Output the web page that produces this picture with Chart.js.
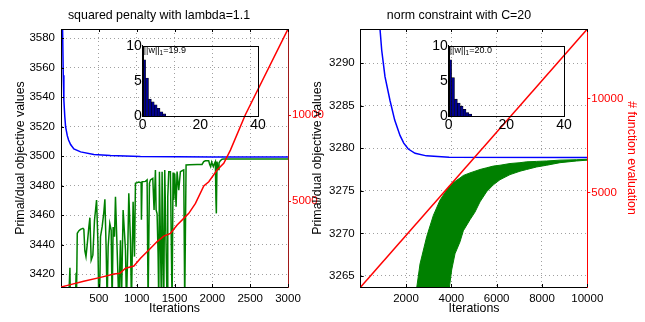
<!DOCTYPE html>
<html>
<head>
<meta charset="utf-8">
<title>primal/dual objective</title>
<script src="https://cdn.jsdelivr.net/npm/chart.js@4.4.1/dist/chart.umd.min.js"></script>
<style>
  body { margin: 0; background: #fff; width: 645px; height: 322px; overflow: hidden; position: relative; }
  canvas { position: absolute; }
</style>
</head>
<body>
<canvas id="penChart" width="340" height="322" style="left:0;top:0"></canvas>
<canvas id="conChart" width="345" height="322" style="left:300px;top:0"></canvas>
<canvas id="penHistChart" width="160" height="100" style="left:110px;top:36px"></canvas>
<canvas id="conHistChart" width="160" height="100" style="left:416px;top:36px"></canvas>
<script>
"use strict";

// ---- left panel: squared penalty with lambda=1.1 ----
const penIterBlue = [15, 21, 30, 38, 50, 61, 83, 100, 127, 170, 259, 434, 654, 1050, 2000, 3000];
const penPrimal = [3620, 3586, 3555, 3538, 3527, 3520, 3514, 3511, 3508, 3505, 3503, 3501.3, 3500.6, 3499.8, 3499.6, 3499.5];

const penIterGreen = [100, 118, 124, 190, 200, 206, 215, 237, 258, 290, 302, 315, 330, 346, 368, 382, 399, 421, 443, 470,
  487, 500, 514, 522, 544, 566, 580, 597, 610, 623, 645, 663, 676, 689, 707, 720, 742, 764, 786, 799,
  821, 852, 865, 883, 896, 918, 931, 953, 971, 984, 1028, 1059, 1063, 1072, 1116, 1138, 1151, 1169, 1182, 1213,
  1230, 1248, 1257, 1270, 1283, 1292, 1301, 1314, 1327, 1336, 1349, 1358, 1371, 1389, 1402, 1411, 1424, 1446, 1468, 1481,
  1490, 1503, 1521, 1534, 1556, 1578, 1600, 1622, 1635, 1653, 1700, 1800, 1864, 1886, 1908, 1952, 1965, 1978, 1991, 2013,
  2026, 2040, 2048, 2053, 2062, 2075, 2088, 2106, 2128, 2150, 3000];
const penDual = [3400, 3424.5, 3400, 3400, 3421, 3410, 3447.8, 3449.6, 3450.5, 3451.2, 3450.5, 3436, 3432, 3440, 3452, 3458.4, 3429.7, 3433, 3456.8, 3470.4,
  3443, 3400, 3416, 3445.5, 3452.3, 3462, 3470.8, 3436.5, 3400, 3438.7, 3454.5, 3450, 3400, 3452, 3445.5, 3472.6, 3436.5, 3400, 3443, 3400,
  3463.6, 3436.5, 3400, 3438.7, 3474.9, 3443, 3400, 3469.2, 3432, 3481.7, 3482.5, 3482, 3457, 3482.8, 3483, 3484, 3400, 3481.7, 3484, 3485,
  3463.6, 3490.7, 3463.6, 3461, 3434, 3400, 3489.6, 3443, 3400, 3489.6, 3430, 3400, 3490.7, 3438.7, 3400, 3472.6, 3489.6, 3489.6, 3400, 3489,
  3470.4, 3488.4, 3465.9, 3489.6, 3477, 3489.6, 3490.2, 3490.7, 3400, 3494.1, 3494.3, 3494.5, 3494.5, 3496.4, 3497, 3497, 3494.5, 3493, 3496, 3493,
  3495, 3496.4, 3470, 3461.3, 3496.4, 3491, 3495.5, 3497, 3498, 3498.2, 3498.2];

const penIterRed = [0, 100, 300, 523, 700, 778, 853, 963, 1051, 1161, 1271, 1359, 1447, 1535, 1645, 1689, 1777, 1887, 1953, 2063, 2151, 2239, 2435, 3000];
const penFev = [0, 110, 330, 560, 760, 800, 1090, 1220, 1670, 2150, 2640, 2960, 3120, 3600, 4090, 4280, 4860, 5870, 6120, 6800, 7190, 7960, 10000, 15000];

const penXTicks = [500, 1000, 1500, 2000, 2500, 3000];
const penYTicks = [3420, 3440, 3460, 3480, 3500, 3520, 3540, 3560, 3580];
const penFevTicks = [5000, 10000];

// ---- right panel: norm constraint with C=20 ----
const conIterBlue = [700, 852, 927, 1072, 1293, 1500, 1734, 1900, 2100, 2400, 2900, 3900, 10000];
const conPrimal = [3310, 3294, 3291.5, 3288.4, 3285.6, 3283.3, 3281.5, 3280.6, 3279.9, 3279.4, 3279.1, 3278.95, 3278.9];

// dual oscillates very fast, so only its upper and lower envelope are read
const conIterBand = [2440, 2617, 2911, 3205, 3499, 3794, 3911, 4014, 4161, 4382, 4529, 4823, 5044, 5265, 5559, 5853, 6147, 6589, 7030, 7324, 7765, 8207, 8795, 9530, 10000];
const conDualHigh = [3263.0, 3266.4, 3269.6, 3272.1, 3273.9, 3275.1, 3275.5, 3275.8, 3276.1, 3276.5, 3276.8, 3277.1, 3277.3, 3277.5, 3277.7, 3277.9, 3278.0, 3278.2, 3278.3, 3278.4, 3278.45, 3278.5, 3278.6, 3278.65, 3278.7];
const conDualLow = [3258, 3258, 3258, 3258, 3258, 3258, 3263.6, 3265.7, 3267.6, 3269.0, 3270.3, 3271.6, 3272.5, 3273.7, 3274.9, 3275.7, 3276.3, 3276.9, 3277.3, 3277.5, 3277.8, 3278.0, 3278.3, 3278.5, 3278.6];

const conIterRed = [0, 10000];
const conFev = [0, 13700];

const conXTicks = [2000, 4000, 6000, 8000, 10000];
const conYTicks = [3265, 3270, 3275, 3280, 3285, 3290];
const conFevTicks = [5000, 10000];

// ---- insets: histogram of |w| ----
const histBins = [0.5, 1.5, 2.5, 3.5, 4.5, 5.5, 6.5, 7.5];
const penHist = [8.0, 5.4, 2.4, 2.0, 1.6, 1.1, 0.6, 0.3];
const conHist = [8.0, 5.45, 2.4, 1.85, 1.4, 0.95, 0.5, 0.28];
const histXTicks = [0, 20, 40];
const histYTicks = [0, 5, 10];


Chart.defaults.font.family = '"Liberation Sans", Arial, Helvetica, sans-serif';
Chart.defaults.font.size = 11.5;
Chart.defaults.color = "#000";

const FONT = '"Liberation Sans", Arial, Helvetica, sans-serif';

function pts(xs, ys) {
  return xs.map((x, i) => ({ x: x, y: ys[i] }));
}

function fixedTicks(list) {
  return function (scale) {
    scale.ticks = list.map(v => ({ value: v }));
  };
}

// title above the plot + top border line + small inner tick marks (matlab style)
const framePlugin = {
  id: "frame",
  afterDraw(chart, args, opts) {
    const ctx = chart.ctx;
    const a = chart.chartArea;
    ctx.save();
    ctx.strokeStyle = "#000";
    ctx.lineWidth = 1;
    ctx.beginPath();
    ctx.moveTo(a.left, Math.round(a.top) + 0.5);
    ctx.lineTo(a.right, Math.round(a.top) + 0.5);
    const x = chart.scales.x, y = chart.scales.y;
    x.ticks.forEach(t => {
      const px = Math.round(x.getPixelForValue(t.value)) + 0.5;
      ctx.moveTo(px, a.bottom); ctx.lineTo(px, a.bottom - 3);
      ctx.moveTo(px, a.top); ctx.lineTo(px, a.top + 3);
    });
    y.ticks.forEach(t => {
      const py = Math.round(y.getPixelForValue(t.value)) + 0.5;
      ctx.moveTo(a.left, py); ctx.lineTo(a.left + 3, py);
    });
    ctx.stroke();
    if (opts.title) {
      ctx.font = "12.4px " + FONT;
      ctx.fillStyle = "#000";
      ctx.textAlign = "center";
      ctx.textBaseline = "alphabetic";
      ctx.fillText(opts.title, 159, 19);
    }
    ctx.restore();
  }
};

// box + "||w||_1=..." text of the small histograms
const boxPlugin = {
  id: "box",
  afterDraw(chart, args, opts) {
    const ctx = chart.ctx;
    const a = chart.chartArea;
    ctx.save();
    ctx.strokeStyle = "#000";
    ctx.lineWidth = 1;
    ctx.strokeRect(Math.round(a.left) + 0.5, Math.round(a.top) + 0.5, Math.round(a.right - a.left), Math.round(a.bottom - a.top));
    ctx.fillStyle = "#000";
    ctx.textBaseline = "alphabetic";
    ctx.font = "9px " + FONT;
    let tx = a.left + 1;
    ctx.fillText("||w||", tx, a.top + 7);
    tx += ctx.measureText("||w||").width;
    ctx.font = "6.5px " + FONT;
    ctx.fillText("1", tx, a.top + 9);
    tx += ctx.measureText("1").width;
    ctx.font = "9px " + FONT;
    ctx.fillText("=" + opts.norm, tx, a.top + 7);
    ctx.restore();
  }
};

function mainChart(id, o) {
  return new Chart(document.getElementById(id), {
    type: "line",
    data: { datasets: o.datasets },
    options: {
      responsive: false,
      animation: false,
      layout: { padding: { top: 29, left: 0, right: 0, bottom: 0 } },
      elements: { point: { radius: 0 }, line: { tension: 0, borderWidth: 1.5 } },
      plugins: {
        legend: { display: false },
        tooltip: { enabled: false },
        frame: { title: o.title }
      },
      scales: {
        x: {
          type: "linear", min: o.xMin, max: o.xMax,
          afterBuildTicks: fixedTicks(o.xTicks),
          afterFit: s => { s.height = 35; },
          grid: { color: "#a0a0a0", drawTicks: false },
          border: { color: "#000", dash: [1, 3] },
          ticks: { padding: 5, maxRotation: 0, minRotation: 0, autoSkip: false, callback: v => String(v) },
          title: { display: true, text: "Iterations", font: { size: 12.4 }, padding: { top: 0, bottom: 5.5 } }
        },
        y: {
          type: "linear", position: "left", min: o.yMin, max: o.yMax,
          afterBuildTicks: fixedTicks(o.yTicks),
          afterFit: s => { s.width = o.leftW; },
          grid: { color: "#a0a0a0", drawTicks: false },
          border: { color: "#000", dash: [1, 3] },
          ticks: { padding: 6, autoSkip: false, callback: v => String(v) },
          title: { display: true, text: "Primal/dual objective values", font: { size: 12.4 }, padding: { top: o.leftTitlePad, bottom: 0 } }
        },
        y2: {
          type: "linear", position: "right", min: 0, max: o.fevMax,
          afterBuildTicks: fixedTicks(o.fevTicks),
          afterFit: s => { s.width = o.rightW; },
          grid: { drawOnChartArea: false, color: "#ff0000", tickLength: 3 },
          border: { color: o.fevAxisColor },
          ticks: { color: "#ff0000", padding: 1, autoSkip: false, callback: v => String(v) },
          title: { display: o.fevTitle, text: "# function evaluation", color: "#ff0000", font: { size: 12.4 }, padding: { top: 5.8, bottom: 0 } }
        }
      }
    },
    plugins: [framePlugin]
  });
}

function histChart(id, counts, norm) {
  return new Chart(document.getElementById(id), {
    type: "bar",
    data: {
      datasets: [{
        data: pts(histBins, counts),
        backgroundColor: "#00008f",
        borderColor: "#000",
        borderWidth: 0.6,
        barPercentage: 1,
        categoryPercentage: 1
      }]
    },
    options: {
      responsive: false,
      animation: false,
      layout: { padding: { top: 9.7, right: 12, left: 0, bottom: 0 } },
      plugins: { legend: { display: false }, tooltip: { enabled: false }, box: { norm: norm } },
      scales: {
        x: {
          type: "linear", min: 0, max: 40, offset: false,
          afterBuildTicks: fixedTicks(histXTicks),
          afterFit: s => { s.height = 20; },
          grid: { display: false, offset: false, drawTicks: false },
          border: { color: "#000" },
          ticks: { font: { size: 14 }, padding: 1, maxRotation: 0, autoSkip: false }
        },
        y: {
          type: "linear", min: 0, max: 10,
          afterBuildTicks: fixedTicks(histYTicks),
          afterFit: s => { s.width = 32.7; },
          grid: { display: false, drawTicks: false },
          border: { color: "#000" },
          ticks: { font: { size: 14 }, padding: 1, autoSkip: false }
        }
      }
    },
    plugins: [boxPlugin]
  });
}

window.onload = init;

function init() {
  mainChart("penChart", {
    title: "squared penalty with lambda=1.1",
    xMin: 0, xMax: 3000, xTicks: penXTicks,
    yMin: 3411.4, yMax: 3586.3, yTicks: penYTicks,
    fevMax: 15000, fevTicks: penFevTicks,
    leftW: 61, rightW: 52, leftTitlePad: 13.3,
    fevAxisColor: "#a01818", fevTitle: false,
    datasets: [
      { data: pts(penIterRed, penFev), borderColor: "#ff0000", yAxisID: "y2" },
      { data: pts(penIterGreen, penDual), borderColor: "#008000", yAxisID: "y" },
      { data: pts(penIterBlue, penPrimal), borderColor: "#0000ff", yAxisID: "y" }
    ]
  });

  mainChart("conChart", {
    title: "norm constraint with C=20",
    xMin: 0, xMax: 10000, xTicks: conXTicks,
    yMin: 3263.7, yMax: 3294, yTicks: conYTicks,
    fevMax: 13700, fevTicks: conFevTicks,
    leftW: 60.7, rightW: 57.7, leftTitlePad: 10.6,
    fevAxisColor: "#ff0000", fevTitle: true,
    datasets: [
      { data: pts(conIterRed, conFev), borderColor: "#ff0000", yAxisID: "y2" },
      { data: pts(conIterBlue, conPrimal), borderColor: "#0000ff", yAxisID: "y" },
      { data: pts(conIterBand, conDualHigh), borderColor: "#008000", borderWidth: 1, backgroundColor: "#008000", fill: "+1", yAxisID: "y" },
      { data: pts(conIterBand, conDualLow), borderColor: "#008000", borderWidth: 1, fill: false, yAxisID: "y" }
    ]
  });

  histChart("penHistChart", penHist, "19.9");
  histChart("conHistChart", conHist, "20.0");
}
</script>
</body>
</html>
